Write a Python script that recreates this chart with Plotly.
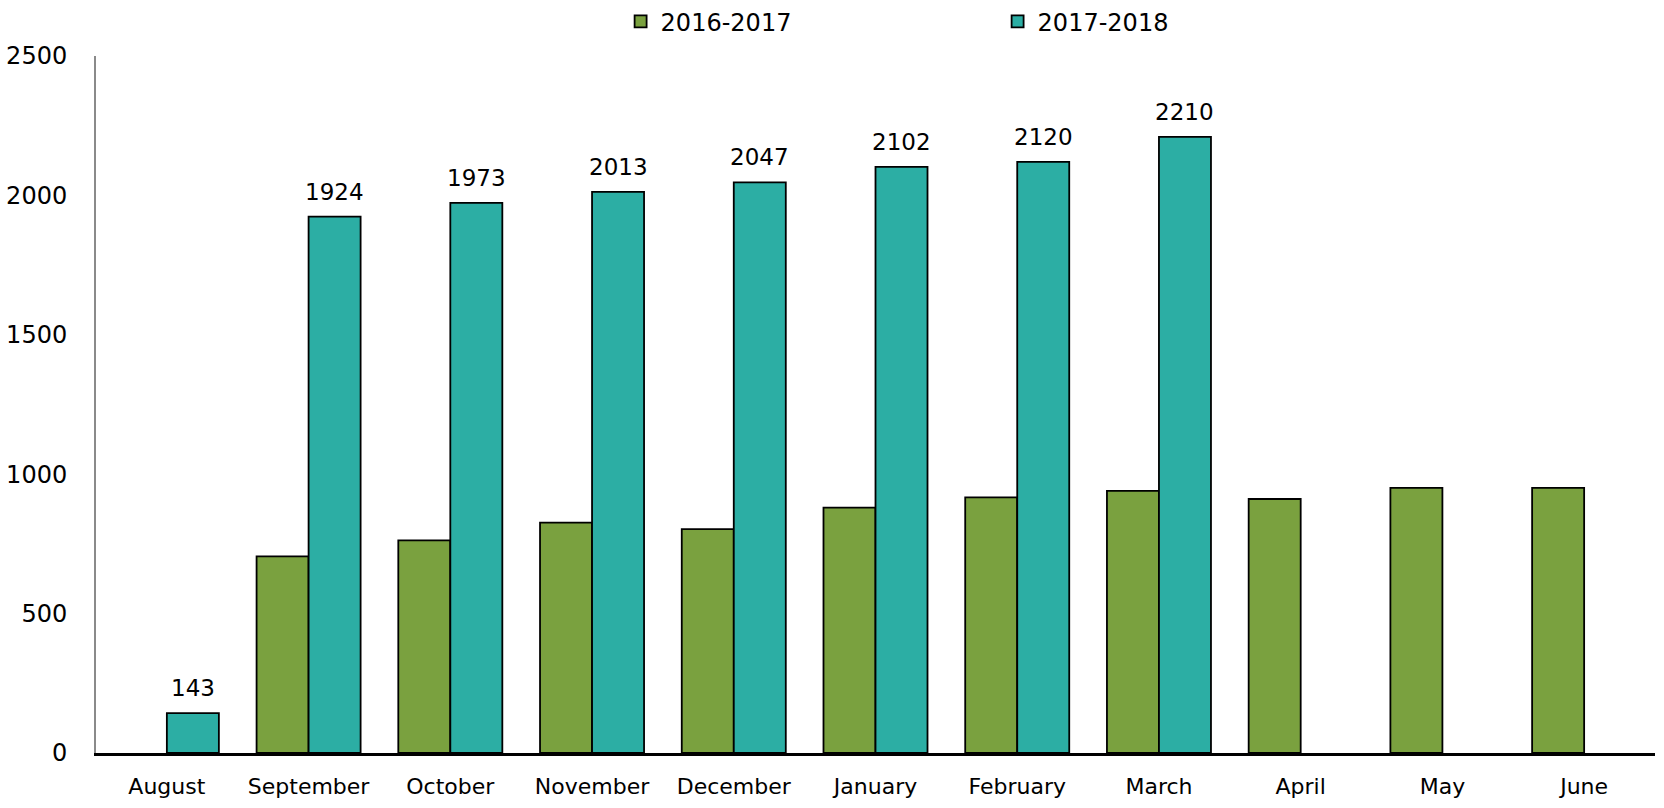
import plotly.graph_objects as go

months = ["August", "September", "October", "November", "December", "January",
          "February", "March", "April", "May", "June"]
s2016 = [None, 705, 763, 826, 803, 880, 917, 940, 911, 951, 951]
s2017 = [143, 1924, 1973, 2013, 2047, 2102, 2120, 2210, None, None, None]
series_names = ["2016-2017", "2017-2018"]
y_ticks = [0, 500, 1000, 1500, 2000, 2500]

GREEN = "#7AA13F"
TEAL = "#2CAEA4"
FONT = "DejaVu Sans"

fig = go.Figure()
fig.add_trace(go.Bar(x=months, y=s2016, name=series_names[0], marker=dict(color=GREEN, line=dict(color="black", width=1.8))))
fig.add_trace(go.Bar(x=months, y=s2017, name=series_names[1], marker=dict(color=TEAL, line=dict(color="black", width=1.8))))

for m, v in zip(months, s2017):
    if v is not None:
        fig.add_annotation(x=m, y=v, text=str(v), showarrow=False, xshift=26, yshift=10,
                           yanchor="bottom", font=dict(family=FONT, size=23, color="black"))

fig.update_layout(
    width=1664, height=808,
    margin=dict(l=96, r=9, t=56, b=55, autoexpand=False),
    paper_bgcolor="white", plot_bgcolor="white",
    barmode="group", bargap=0.266, bargroupgap=0,
    font=dict(family=FONT, color="black"),
    showlegend=True,
    legend=dict(orientation="h", x=0.3365, xanchor="left", y=1.049, yanchor="middle",
                font=dict(family=FONT, size=24, color="black"), entrywidth=332,
                bgcolor="rgba(0,0,0,0)"),
    xaxis=dict(showline=True, linecolor="black", linewidth=3, ticks="", showgrid=False,
               tickfont=dict(family=FONT, size=22, color="black"), ticklabelstandoff=12),
    yaxis=dict(range=[0, 2500], tickvals=y_ticks, showline=True, linecolor="#8a8a8a", linewidth=2,
               ticks="", showgrid=False, zeroline=False,
               tickfont=dict(family=FONT, size=24, color="black"), ticklabelstandoff=22),
)

fig.write_html("out.html")
